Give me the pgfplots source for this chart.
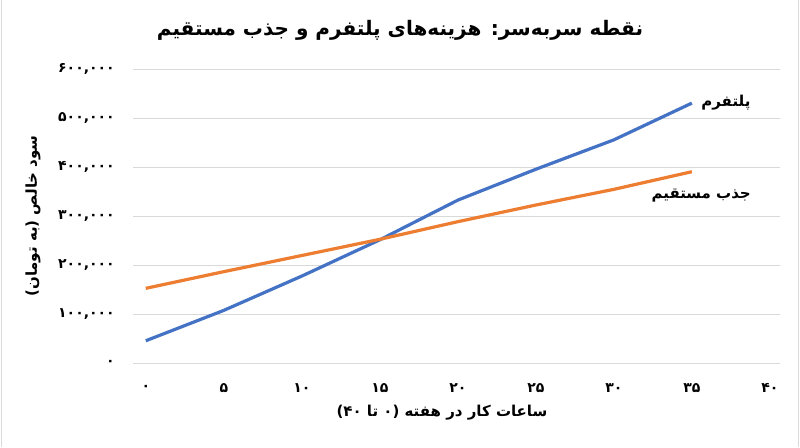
\documentclass[border=0pt]{standalone}
\usepackage{fontspec}
\usepackage{pgfplots}
\pgfplotsset{compat=1.18}
\setmainfont{DejaVu Sans}
\newfontfamily\arabicfont[Script=Arabic]{DejaVu Sans}
\TeXXeTstate=1
\definecolor{plat}{HTML}{4472C4}
\definecolor{direct}{HTML}{ED7D31}
\definecolor{gridc}{HTML}{D9D9D9}

\begin{document}
\begin{tikzpicture}[x=1pt,y=1pt]
\path[use as bounding box] (0,0) rectangle (800,447);
\draw[gray!30, line width=1pt] (1,0) -- (1,447);
\draw[gray!30, line width=1pt] (798.5,0) -- (798.5,447);

\begin{axis}[
  at={(133.3pt,83.7pt)}, anchor=south west,
  scale only axis, width=646.7pt, height=294pt,
  xmin=-0.8, xmax=40.65, ymin=0, ymax=600000,
  scaled y ticks=false,
  axis line style={draw=none},
  major tick length=0pt,
  ymajorgrids, grid style={gridc, line width=0.9pt},
  xtick={0,5,...,40},
  xticklabels={۰,۵,۱۰,۱۵,۲۰,۲۵,۳۰,۳۵,۴۰},
  ytick={0,100000,...,600000},
  yticklabels={۰,{۱۰۰,۰۰۰},{۲۰۰,۰۰۰},{۳۰۰,۰۰۰},{۴۰۰,۰۰۰},{۵۰۰,۰۰۰},{۶۰۰,۰۰۰}},
  ticklabel style={font=\arabicfont\bfseries\fontsize{14}{16}\selectfont},
  xticklabel style={anchor=center, yshift=-25pt},
  yticklabel style={anchor=east, xshift=-15pt},
  clip=false,
]
\addplot[plat, line width=3.2pt] coordinates {
  (0,46000) (5,108000) (10,178000) (15,252000) (20,333000)
  (25,396000) (30,456000) (35,531000)
};
\addplot[direct, line width=3.2pt] coordinates {
  (0,153000) (5,187000) (10,220000) (15,253000) (20,289000)
  (25,323000) (30,355000) (35,391000)
};
\node[anchor=west, font=\arabicfont\bfseries\fontsize{15}{17}\selectfont]
  at (axis cs:35,531000) {\hspace{6pt}\beginR پلتفرم\endR};
\node[font=\arabicfont\bfseries\fontsize{15}{17}\selectfont]
  at (axis cs:35.6,343000) {\beginR جذب مستقیم\endR};
\end{axis}

\node[font=\arabicfont\bfseries\fontsize{20}{24}\selectfont] at (400,417)
  {\beginR نقطه سربه‌سر: هزینه‌های پلتفرم و جذب مستقیم\endR};
\node[rotate=90, font=\arabicfont\bfseries\fontsize{15}{17}\selectfont] at (33,231)
  {\beginR سود خالص (به تومان)\endR};
\node[font=\arabicfont\bfseries\fontsize{15}{17}\selectfont] at (442,34)
  {\beginR ساعات کار در هفته (۰ تا \beginL۴۰\endL{})\endR};
\end{tikzpicture}
\end{document}
